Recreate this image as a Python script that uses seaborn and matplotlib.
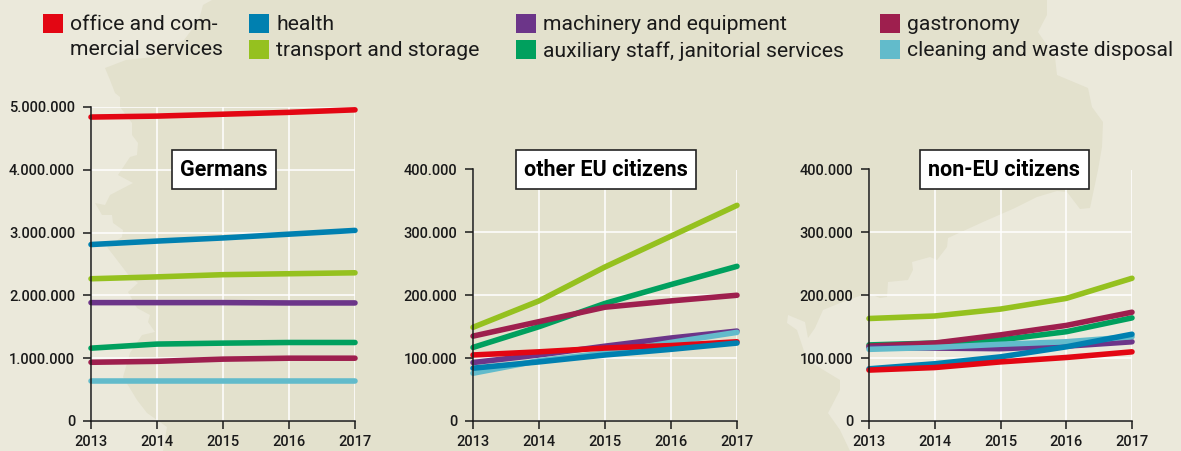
import matplotlib
matplotlib.use("Agg")
import matplotlib.pyplot as plt
from matplotlib.patches import Polygon, Rectangle
import pandas as pd
import seaborn as sns

years = [2013, 2014, 2015, 2016, 2017]
order_eu = ["auxiliary staff, janitorial services", "transport and storage", "gastronomy",
            "machinery and equipment", "cleaning and waste disposal", "office and commercial services", "health"]
order_non_eu = ["auxiliary staff, janitorial services", "transport and storage", "gastronomy",
                "machinery and equipment", "cleaning and waste disposal", "health", "office and commercial services"]
colors = {"office and commercial services": "#E30613", "health": "#0080B0", "machinery and equipment": "#6C3589",
          "transport and storage": "#95C11F", "auxiliary staff, janitorial services": "#00A05E",
          "gastronomy": "#9E1F4E", "cleaning and waste disposal": "#62BBCB"}

germans = {
    "office and commercial services": [4840000, 4855000, 4885000, 4915000, 4955000],
    "health": [2810000, 2865000, 2915000, 2975000, 3035000],
    "transport and storage": [2265000, 2295000, 2330000, 2345000, 2360000],
    "machinery and equipment": [1885000, 1885000, 1885000, 1880000, 1880000],
    "auxiliary staff, janitorial services": [1160000, 1225000, 1240000, 1250000, 1250000],
    "gastronomy": [935000, 950000, 985000, 1000000, 1000000],
    "cleaning and waste disposal": [640000, 640000, 640000, 640000, 640000],
}
eu = {
    "office and commercial services": [105000, 110000, 116000, 120000, 126000],
    "health": [84000, 94000, 105000, 114000, 124000],
    "transport and storage": [149000, 191000, 245000, 294000, 343000],
    "machinery and equipment": [93000, 105000, 119000, 132000, 143000],
    "auxiliary staff, janitorial services": [117000, 150000, 187000, 217000, 246000],
    "gastronomy": [135000, 158000, 181000, 191000, 200000],
    "cleaning and waste disposal": [76000, 96000, 108000, 125000, 141000],
}
non_eu = {
    "office and commercial services": [81000, 85000, 94000, 101000, 110000],
    "health": [83000, 91000, 102000, 118000, 138000],
    "transport and storage": [163000, 167000, 178000, 195000, 227000],
    "machinery and equipment": [117000, 116000, 115000, 119000, 126000],
    "auxiliary staff, janitorial services": [121000, 124000, 129000, 142000, 164000],
    "gastronomy": [119000, 124000, 137000, 152000, 173000],
    "cleaning and waste disposal": [114000, 117000, 122000, 126000, 134000],
}
panels = [("Germans", germans, order_eu, 5000000, 1000000, 91, 355, 107, 224),
          ("other EU citizens", eu, order_eu, 400000, 100000, 473, 737, 169.5, 606),
          ("non-EU citizens", non_eu, order_non_eu, 400000, 100000, 869, 1132, 169.5, 1004.5)]
legend_items = [(43, 14, "#E30613", "office and com-\nmercial services"),
                (249, 14, "#0080B0", "health"), (249, 40, "#95C11F", "transport and storage"),
                (516, 14, "#6C3589", "machinery and equipment"), (516, 40, "#00A05E", "auxiliary staff, janitorial services"),
                (880, 14, "#9E1F4E", "gastronomy"), (880, 40, "#62BBCB", "cleaning and waste disposal")]

W, H = 1181, 451
sns.set_theme(style="white")
plt.rcParams["font.family"] = ["Roboto", "DejaVu Sans"]
DARK, LIGHT = "#E3E1CD", "#EBE9DB"
fig = plt.figure(figsize=(W / 100, H / 100), dpi=100, facecolor=DARK)

def px(points):
    return [(x / W, 1 - y / H) for x, y in points]

left_land = [(0, 0), (212, 0), (203, 5), (199, 20), (184, 40), (153, 57), (126, 60), (105, 68), (110, 80), (115, 93),
             (120, 97), (120, 107), (132, 123), (132, 135), (138, 143), (137, 155), (130, 157), (118, 175), (133, 183),
             (110, 195), (105, 205), (95, 203), (102, 215), (112, 215), (113, 223), (123, 230), (122, 237), (107, 247),
             (117, 260), (130, 277), (138, 283), (128, 292), (137, 308), (150, 315), (148, 322), (155, 332), (142, 335),
             (130, 353), (123, 377), (137, 400), (147, 413), (157, 420), (167, 427), (163, 451), (0, 451)]
right_land = [(1047, 0), (1047, 15), (1038, 32), (1055, 57), (1057, 75), (1088, 88), (1092, 107), (1103, 122), (1102, 147),
              (1098, 170), (1090, 208), (1080, 209), (1067, 192), (1057, 191), (1037, 197), (1015, 208), (983, 222),
              (948, 238), (947, 247), (937, 260), (930, 257), (912, 262), (913, 270), (908, 280), (888, 282), (887, 297),
              (880, 298), (868, 293), (840, 303), (823, 310), (815, 328), (808, 338), (805, 322), (788, 315), (787, 323),
              (797, 330), (807, 360), (840, 380), (840, 390), (828, 413), (840, 430), (850, 451), (1181, 451), (1181, 0)]
for poly in (left_land, right_land):
    fig.add_artist(Polygon(px(poly), closed=True, transform=fig.transFigure, fc=LIGHT, ec="none", zorder=-5))

for title, data, order, ymax, step, x0, x1, ytop, title_x in panels:
    y0 = 421
    ax = fig.add_axes([x0 / W, 1 - y0 / H, (x1 - x0) / W, (y0 - ytop) / H])
    ax.patch.set_alpha(0)
    long = pd.DataFrame(data, index=years).rename_axis("year").reset_index().melt("year", var_name="sector", value_name="n")
    sns.lineplot(data=long, x="year", y="n", hue="sector", hue_order=order, palette=colors, ax=ax,
                 linewidth=4.0, legend=False, errorbar=None, solid_capstyle="round", clip_on=False)
    ax.set_xlim(years[0], years[-1])
    ax.set_ylim(0, ymax)
    ax.set_xticks(years)
    ticks = list(range(0, ymax + 1, step))
    ax.set_yticks(ticks)
    ax.set_yticklabels([f"{t:,}".replace(",", ".") for t in ticks], fontweight="medium")
    ax.set_xticklabels([str(y) for y in years], fontweight="medium")
    ax.set_xlabel("")
    ax.set_ylabel("")
    ax.grid(True, color="white", linewidth=1.1, zorder=0)
    ax.set_axisbelow(True)
    for s in ("top", "right"):
        ax.spines[s].set_visible(False)
    for s in ("left", "bottom"):
        ax.spines[s].set_color("#1a1a1a")
        ax.spines[s].set_linewidth(1.1)
    ax.tick_params(axis="both", length=6, width=1.1, color="#1a1a1a", labelcolor="#1a1a1a", labelsize=10.5, left=True, bottom=True)
    ax.tick_params(axis="y", pad=5.5)
    ax.tick_params(axis="x", pad=4)
    ax.text(title_x / W, 1 - 169.5 / H, title, transform=fig.transFigure, ha="center", va="center",
            fontsize=15.5, fontweight="bold", color="black", zorder=10,
            bbox=dict(boxstyle="square,pad=0.38", fc="white", ec="#222222", lw=1.2))

for x, y, color, label in legend_items:
    fig.add_artist(Rectangle((x / W, 1 - (y + 19) / H), 19.5 / W, 19 / H, transform=fig.transFigure, fc=color, ec="none"))
    fig.text((x + 27) / W, 1 - (y + 1.5) / H, label, ha="left", va="top", fontsize=15.2, color="#1a1a1a", linespacing=1.36)

fig.savefig("out.png", dpi=100, facecolor=fig.get_facecolor())
